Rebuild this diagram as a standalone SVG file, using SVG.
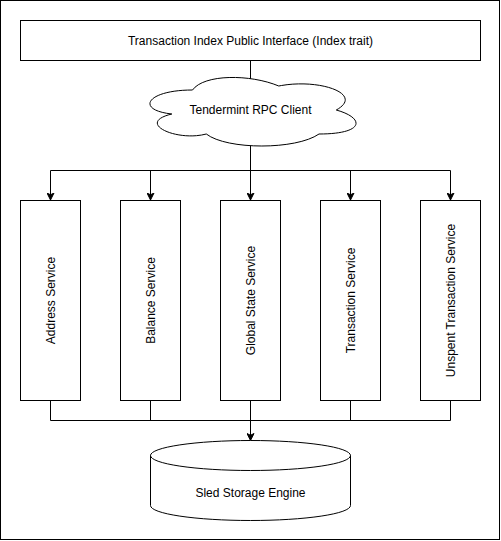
<svg xmlns="http://www.w3.org/2000/svg" width="501" height="541" viewBox="0 0 501 541">
<style>
.box{fill:#fff;stroke:#000;stroke-width:1}
.ln{fill:none;stroke:#000;stroke-width:1}
.ah{fill:#000;stroke:#000;stroke-width:1}
text{font-family:Helvetica,"Liberation Sans",Arial,sans-serif;font-size:12px;fill:#000;text-anchor:middle;dominant-baseline:central}
</style>
<defs>
<marker id="arr" viewBox="0 0 8 8" refX="7.5" refY="4" markerWidth="8" markerHeight="8" markerUnits="userSpaceOnUse" orient="auto">
<path d="M0.5,0.5 L7.5,4 L0.5,7.5 L2.3,4 Z" fill="#000" stroke="#000" stroke-width="1"/>
</marker>
</defs>
<rect x="0.5" y="0.5" width="499" height="539" fill="#fff" stroke="#000"/>
<g id="connectors">
<path class="ln" d="M250.5,60.5 V80"/>
<path class="ln" d="M250.5,145 V170.5"/>
<path class="ln" d="M50.5,170.5 H450.5"/>
<path class="ln" d="M50.5,170.5 V200" marker-end="url(#arr)"/>
<path class="ln" d="M150.5,170.5 V200" marker-end="url(#arr)"/>
<path class="ln" d="M250.5,170.5 V200" marker-end="url(#arr)"/>
<path class="ln" d="M350.5,170.5 V200" marker-end="url(#arr)"/>
<path class="ln" d="M450.5,170.5 V200" marker-end="url(#arr)"/>
<path class="ln" d="M50.5,400.5 V420.5 H450.5 V400.5"/>
<path class="ln" d="M150.5,400.5 V420.5"/>
<path class="ln" d="M250.5,400.5 V420.5"/>
<path class="ln" d="M350.5,400.5 V420.5"/>
<path class="ln" d="M250.5,420.5 V440.5" marker-end="url(#arr)"/>
</g>
<g id="interface">
<rect class="box" x="20.5" y="20.5" width="460" height="40"/>
<text x="250.5" y="41">Transaction Index Public Interface (Index trait)</text>
</g>
<g id="rpc-client">
<path class="box" d="M192.5,90 C146.5,90 135,110 171.8,114 C135,122.8 176.4,142 206.3,134 C227,150 296,150 319,134 C365,134 365,118 336.3,110 C365,94 319,78 278.8,86 C250,74 204,74 192.5,90 Z"/>
<text x="250.5" y="110">Tendermint RPC Client</text>
</g>
<g id="address-service">
<rect class="box" x="20.5" y="200.5" width="60" height="200"/>
<text transform="translate(50.5,300.5) rotate(-90)">Address Service</text>
</g>
<g id="balance-service">
<rect class="box" x="120.5" y="200.5" width="60" height="200"/>
<text transform="translate(150.5,300.5) rotate(-90)">Balance Service</text>
</g>
<g id="global-state-service">
<rect class="box" x="220.5" y="200.5" width="60" height="200"/>
<text transform="translate(250.5,300.5) rotate(-90)">Global State Service</text>
</g>
<g id="transaction-service">
<rect class="box" x="320.5" y="200.5" width="60" height="200"/>
<text transform="translate(350.5,300.5) rotate(-90)">Transaction Service</text>
</g>
<g id="unspent-transaction-service">
<rect class="box" x="420.5" y="200.5" width="60" height="200"/>
<text transform="translate(450.5,300.5) rotate(-90)">Unspent Transaction Service</text>
</g>
<g id="sled-storage">
<path class="box" d="M150.5,455.5 A100,15 0 0 1 350.5,455.5 V505.5 A100,15 0 0 1 150.5,505.5 Z"/>
<path class="ln" d="M150.5,455.5 A100,15 0 0 0 350.5,455.5"/>
<text x="250.5" y="493">Sled Storage Engine</text>
</g>
</svg>
